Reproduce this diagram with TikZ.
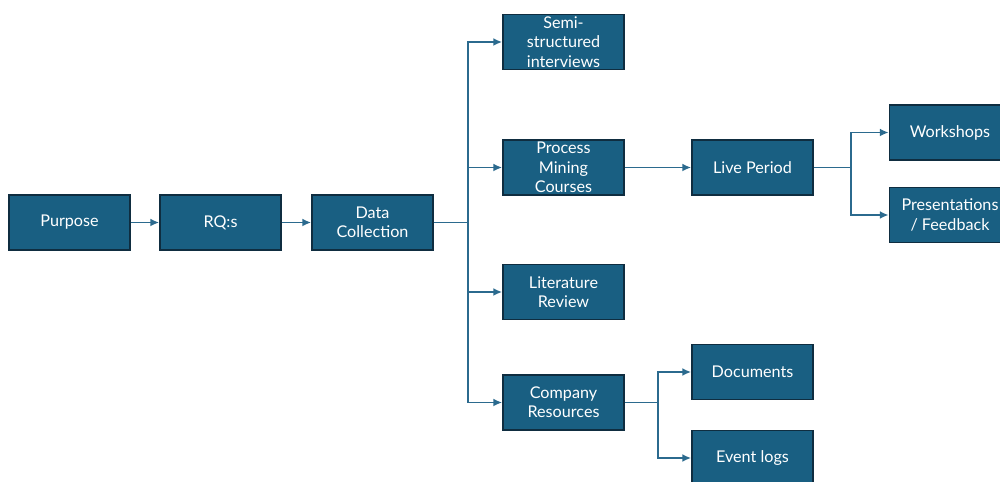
\documentclass[tikz,border=0pt]{standalone}
\usepackage{fontspec}
\setmainfont{Lato}
\usepackage{tikz}
\usetikzlibrary{%
  positioning,%
  arrows.meta%
}
\definecolor{boxblue}{HTML}{195F82}
\definecolor{boxedge}{HTML}{0F2D40}
\definecolor{linkblue}{HTML}{2B6A8E}

\tikzset{
  block/.style={draw=boxedge, line width=1pt, fill=boxblue, text=white,
    minimum width=2.42cm, minimum height=1.1cm, inner sep=1pt,
    align=center, font=\fontsize{9.2}{11}\selectfont},
  link/.style={draw=linkblue, line width=1.1pt},
  arr/.style={link, -{Latex[length=5pt,width=4.5pt]}}
}

\begin{document}
\begin{tikzpicture}[x=0.02cm, y=-0.02cm]
\fill[white] (0,0) rectangle (1000,482);
\useasboundingbox (0,0) rectangle (1000,482);

\node[block] (purpose) at (69.5,222.5) {Purpose};
\node[block] (rqs) at (220.5,222.5) {RQ:s};
\node[block] (datacoll) at (372.5,222.5) {Data\\Collection};

\node[block] (semi) at (563.5,42) {Semi-\\structured\\interviews};
\node[block] (pmc) at (563.5,167.5) {Process\\Mining\\Courses};
\node[block] (litrev) at (563.5,292) {Literature\\Review};
\node[block] (compres) at (563.5,402.5) {Company\\Resources};

\node[block] (live) at (752.5,167.5) {Live Period};
\node[block] (workshops) at (950,132.5) {Workshops};
\node[block] (present) at (950,215) {Presentations\\/ Feedback};

\node[block] (docs) at (752.5,372) {Documents};
\node[block] (evlogs) at (752.5,458) {Event logs};

\coordinate (dcfork) at (468,222.5);
\coordinate (livefork) at (851,167.5);
\coordinate (compfork) at (658,402.5);

\draw
	(purpose) edge[arr] (rqs)
	(rqs) edge[arr] (datacoll)
	(pmc) edge[arr] (live)
;

% data collection branches
\draw[link] (datacoll) -- (dcfork);
\draw[arr] (dcfork) |- (semi);
\draw[arr] (dcfork) |- (pmc);
\draw[arr] (dcfork) |- (litrev);
\draw[arr] (dcfork) |- (compres);

% live period branches
\draw[link] (live) -- (livefork);
\draw[arr] (livefork) |- (workshops);
\draw[arr] (livefork) |- (present);

% company resources branches
\draw[link] (compres) -- (compfork);
\draw[arr] (compfork) |- (docs);
\draw[arr] (compfork) |- (evlogs);
\end{tikzpicture}
\end{document}
